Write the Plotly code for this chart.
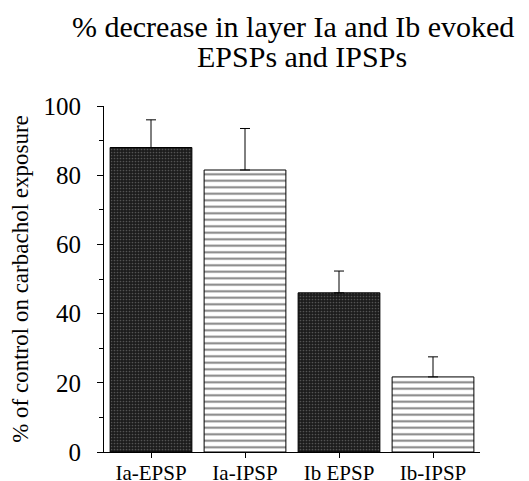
import plotly.graph_objects as go

categories = ["Ia-EPSP", "Ia-IPSP", "Ib EPSP", "Ib-IPSP"]
values = [88, 81.5, 46, 21.7]
err_up = [8, 12, 6.3, 5.8]
y_ticks = [0, 20, 40, 60, 80, 100]
title_lines = ["% decrease in layer Ia and Ib evoked", "EPSPs and IPSPs"]

FONT = "Liberation Serif"

fig = go.Figure()
dark_idx = [0, 2]
striped_idx = [1, 3]
fig.add_trace(go.Bar(
    x=[categories[i] for i in dark_idx],
    y=[values[i] for i in dark_idx],
    width=0.87,
    marker=dict(color="#1c1c1c", line=dict(color="black", width=1),
                pattern=dict(shape=".", fgcolor="#8a8a8a", bgcolor="#1c1c1c", size=3, solidity=0.25)),
    error_y=dict(type="data", symmetric=False, array=[err_up[i] for i in dark_idx],
                 arrayminus=[0, 0], color="black", thickness=1, width=5),
    showlegend=False,
))
fig.add_trace(go.Bar(
    x=[categories[i] for i in striped_idx],
    y=[values[i] for i in striped_idx],
    width=0.87,
    marker=dict(color="white", line=dict(color="black", width=1),
                pattern=dict(shape="-", fgcolor="black", bgcolor="white", size=6.5, solidity=0.3)),
    error_y=dict(type="data", symmetric=False, array=[err_up[i] for i in striped_idx],
                 arrayminus=[0, 0], color="black", thickness=1, width=5),
    showlegend=False,
))

# title lines placed relative to plot top (106 px) over plot height (346 px)
fig.add_annotation(
    text=title_lines[0], xref="paper", yref="paper", x=0.503, y=1.231,
    xanchor="center", yanchor="middle", showarrow=False,
    font=dict(size=30, family=FONT, color="black"),
)
fig.add_annotation(
    text=title_lines[1], xref="paper", yref="paper", x=0.527, y=1.142,
    xanchor="center", yanchor="middle", showarrow=False,
    font=dict(size=30, family=FONT, color="black"),
)

fig.update_layout(
    width=529, height=481,
    margin=dict(l=104, r=49, t=106, b=29, autoexpand=False),
    paper_bgcolor="white", plot_bgcolor="white",
    font=dict(family=FONT, color="black", size=20),
    barmode="overlay",
    xaxis=dict(categoryorder="array", categoryarray=categories, automargin=False,
               range=[-0.5, 3.5], showline=True, linecolor="black", linewidth=1,
               ticks="outside", ticklen=5, tickcolor="black", ticklabelstandoff=-3,
               tickfont=dict(size=21, family=FONT, color="black"), showgrid=False, zeroline=False),
    yaxis=dict(range=[0, 100], tickmode="linear", tick0=0, dtick=20, automargin=False,
               showline=True, linecolor="black", linewidth=1,
               ticks="outside", ticklen=6, tickcolor="black", ticklabelstandoff=11,
               minor=dict(dtick=10, tick0=0, ticks="outside", ticklen=4, tickcolor="black"),
               tickfont=dict(size=25, family=FONT, color="black"), showgrid=False, zeroline=False,
               title=dict(text="% of control on carbachol exposure",
                          font=dict(size=23, family=FONT, color="black"), standoff=8)),
)

fig.write_html("out.html")
